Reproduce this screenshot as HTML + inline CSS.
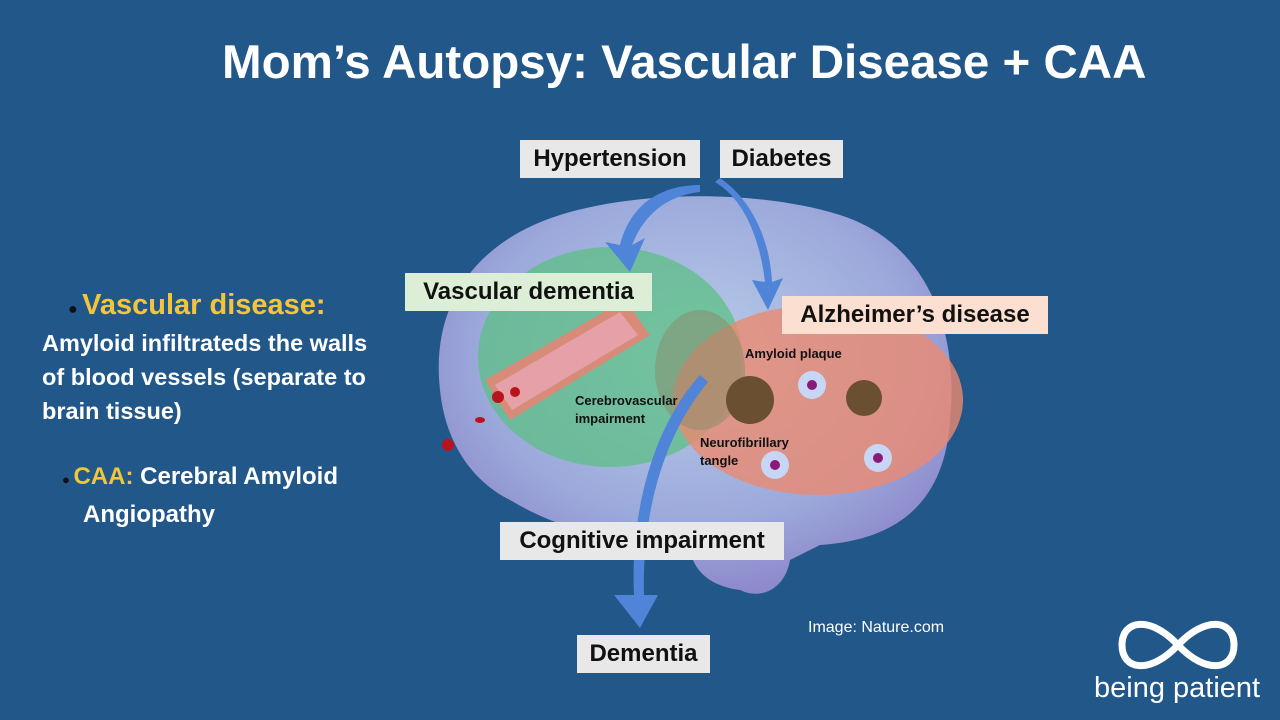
<!DOCTYPE html>
<html><head><style>
body{margin:0;width:1280px;height:720px;background:#22578a;overflow:hidden;position:relative;font-family:"Liberation Sans",sans-serif}
.t{position:absolute;color:#fff;font-weight:bold}
.lb{position:absolute;font-weight:bold;color:#111;font-size:24px;line-height:38px;text-align:center;box-sizing:border-box;white-space:nowrap}
</style></head><body>
<div class="t" style="left:222px;top:35px;font-size:47.5px;white-space:nowrap">Mom’s Autopsy: Vascular Disease + CAA</div>

<div class="t" style="left:68px;top:289px;font-size:29px;color:#f2c53a;white-space:nowrap"><span style="color:#111;font-size:16px">●&nbsp;</span>Vascular disease:</div>
<div class="t" style="left:42px;top:326px;font-size:23.5px;line-height:34px;white-space:nowrap">Amyloid infiltrateds the walls<br>of blood vessels (separate to<br>brain tissue)</div>
<div class="t" style="left:62px;top:459px;font-size:24px;line-height:35px;white-space:nowrap"><span style="color:#111;font-size:13px">●&nbsp;</span><span style="color:#f2c53a">CAA:</span> Cerebral Amyloid<br><span style="padding-left:21px">Angiopathy</span></div>

<svg style="position:absolute;left:0;top:0" width="1280" height="720">
<defs>
<radialGradient id="br" cx="50%" cy="40%" r="60%"><stop offset="0" stop-color="#c9d9f3"/><stop offset="0.7" stop-color="#a9b2e4"/><stop offset="1" stop-color="#9a8fd2"/></radialGradient>
</defs>
<path d="M440,390 C430,300 480,240 560,215 C640,190 760,190 840,215 C920,240 960,320 950,420 C945,500 900,540 820,545 L790,560 C785,590 760,600 740,590 C700,585 690,560 690,545 C620,545 560,530 510,500 C470,480 445,440 440,390 Z" fill="url(#br)" opacity="0.9"/>
<ellipse cx="610" cy="357" rx="132" ry="110" fill="#5cbf85" opacity="0.75"/>
<ellipse cx="818" cy="400" rx="145" ry="95" fill="#eb8a70" opacity="0.8"/>
<ellipse cx="700" cy="370" rx="45" ry="60" fill="#8a8a6a" opacity="0.5"/>
<path d="M485,380 L625,300 L650,335 L510,420 Z" fill="#d98b7a"/>
<path d="M495,385 L620,312 L638,335 L512,410 Z" fill="#e6a0a8"/>
<circle cx="498" cy="397" r="6" fill="#b8141e"/><circle cx="515" cy="392" r="5" fill="#b8141e"/>
<circle cx="448" cy="445" r="6" fill="#b8141e"/><ellipse cx="480" cy="420" rx="5" ry="3" fill="#b8141e"/>
<circle cx="750" cy="400" r="24" fill="#6a5030"/><circle cx="864" cy="398" r="18" fill="#6a5030"/>
<circle cx="812" cy="385" r="14" fill="#c8d6f5"/><circle cx="812" cy="385" r="5" fill="#8a1a7a"/>
<circle cx="775" cy="465" r="14" fill="#c8d6f5"/><circle cx="775" cy="465" r="5" fill="#8a1a7a"/>
<circle cx="878" cy="458" r="14" fill="#c8d6f5"/><circle cx="878" cy="458" r="5" fill="#8a1a7a"/>
<g fill="#4f84d8">
<path d="M700,185 C660,185 630,205 620,245 L605,242 L630,272 L645,238 L632,245 C645,212 670,195 700,192 Z"/>
<path d="M715,182 C745,200 760,240 765,282 L752,280 L768,310 L783,278 L772,282 C770,240 752,200 720,178 Z"/>
<path d="M700,375 C650,430 630,520 634,595 L614,595 L640,628 L658,595 L644,595 C642,520 660,440 708,382 Z"/>
</g>
<text x="745" y="358" font-size="13" font-weight="bold" fill="#111">Amyloid plaque</text>
<text x="575" y="405" font-size="13" font-weight="bold" fill="#111">Cerebrovascular</text>
<text x="575" y="423" font-size="13" font-weight="bold" fill="#111">impairment</text>
<text x="700" y="447" font-size="13" font-weight="bold" fill="#111">Neurofibrillary</text>
<text x="700" y="465" font-size="13" font-weight="bold" fill="#111">tangle</text>
<g fill="none" stroke="#fff" stroke-width="7">
<path d="M1178,645 C1150,615 1122,620 1122,645 C1122,670 1150,675 1178,645 C1206,615 1234,620 1234,645 C1234,670 1206,675 1178,645 Z"/>
</g>
</svg>

<div class="lb" style="left:520px;top:140px;width:180px;background:#e8e8e8">Hypertension</div>
<div class="lb" style="left:720px;top:140px;width:123px;background:#e8e8e8">Diabetes</div>
<div class="lb" style="left:405px;top:273px;width:247px;background:#dcefd6">Vascular dementia</div>
<div class="lb" style="left:782px;top:296px;width:266px;background:#fbe0d2">Alzheimer’s disease</div>
<div class="lb" style="left:500px;top:522px;width:284px;background:#e8e8e8">Cognitive impairment</div>
<div class="lb" style="left:577px;top:635px;width:133px;background:#e8e8e8">Dementia</div>

<div style="position:absolute;left:808px;top:619px;color:#fff;font-size:16px">Image: Nature.com</div>
<div style="position:absolute;left:1094px;top:672px;color:#fff;font-size:29px;white-space:nowrap">being patient</div>
</body></html>
